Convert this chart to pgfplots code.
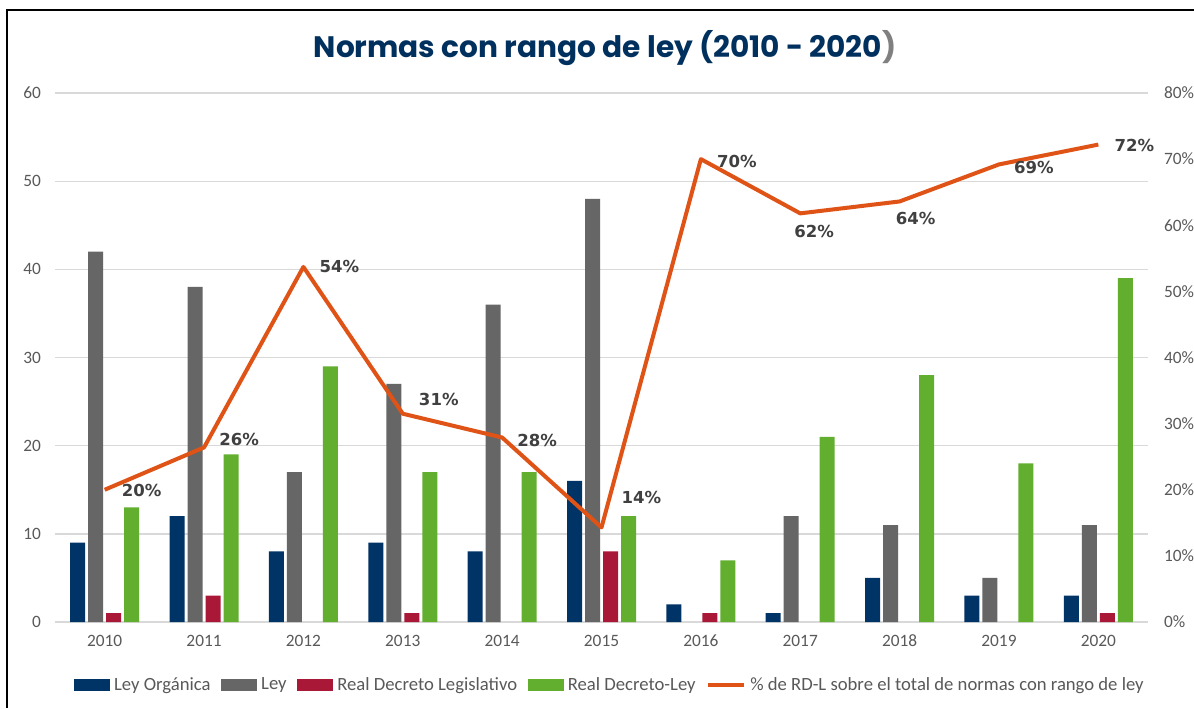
\documentclass[border=0pt]{standalone}
\usepackage{pgfplots}
\pgfplotsset{compat=1.18}
\usepackage{pgfplotstable}
\usepackage{fontspec}
\setmainfont{Carlito}
\newfontfamily\titlefont{Poppins}
\newfontfamily\labelfont{DejaVu Sans}

\definecolor{cNavy}{HTML}{003366}
\definecolor{cGray}{HTML}{666666}
\definecolor{cRed}{HTML}{AA1838}
\definecolor{cGreen}{HTML}{62AE2F}
\definecolor{cOrange}{HTML}{E05316}
\definecolor{cGrid}{HTML}{D9D9D9}
\definecolor{cTick}{HTML}{595959}
\definecolor{cLabel}{HTML}{404040}
\definecolor{cTitle}{HTML}{00305E}

% counts per year
\pgfplotstableread{
x lo ley rdleg rdl
0  9 42 1 13
1 12 38 3 19
2  8 17 0 29
3  9 27 1 17
4  8 36 0 17
5 16 48 8 12
6  2  0 1  7
7  1 12 0 21
8  5 11 0 28
9  3  5 0 18
10 3 11 1 39
}\normas

% share of RD-L, label text and label offsets (pt)
\pgfplotstableread{
x pct lab dx dy
0  20.0 20 27.75 -0.75
1  26.4 26 26.25 6
2  53.7 54 27 0
3  31.5 31 27 10.5
4  27.9 28 26.25 -2.25
5  14.3 14 30 22.5
6  70.0 70 27 -1.5
7  61.8 62 10.5 -13.5
8  63.6 64 12 -12.75
9  69.2 69 26.25 -2.25
10 72.2 72 27 -0.75
}\rdl

\pgfplotsset{
  base/.style={
    width=819.75pt, height=396.75pt, scale only axis,
    at={(0,0)}, anchor=south west,
    xmin=-0.5, xmax=10.5,
    major tick length=0pt,
    tick label style={font=\fontsize{13}{15}\selectfont, text=cTick},
    /pgf/number format/assume math mode=true,
  },
  barleg/.style={legend image code/.code={\fill[##1] (0pt,-4.5pt) rectangle (27pt,4.5pt);}},
  lineleg/.style={legend image code/.code={\draw[##1] (0pt,0pt) -- (27pt,0pt);}},
  nozero/.style={y filter/.expression={y==0 ? nan : y}, unbounded coords=discard},
}

\begin{document}
\begin{tikzpicture}
\useasboundingbox (-41.25pt,-64.5pt) rectangle (854.25pt,466.5pt);
\fill[white] (-41.25pt,-64.5pt) rectangle (854.25pt,466.5pt);
\draw[line width=1.1pt] (-36pt,-64.5pt) -- (-36pt,459pt) -- (854.25pt,459pt);

\begin{axis}[
    base,
    ymin=0, ymax=60,
    ytick={0,10,...,60},
    xtick={0,...,10},
    xticklabels={2010,2011,2012,2013,2014,2015,2016,2017,2018,2019,2020},
    ybar=2.25pt, bar width=11.25pt,
    ymajorgrids, grid style={cGrid, line width=1pt},
    axis x line*=bottom, axis y line*=left,
    x axis line style={cGrid, line width=1.3pt, -},
    y axis line style={draw=none},
    xticklabel style={yshift=-6pt, text height=9pt, text depth=0pt},
    yticklabel style={xshift=-7pt},
    legend columns=-1,
    legend cell align=left,
    legend style={at={(0.508,-0.119)}, anchor=center, draw=none, fill=none,
      font=\fontsize{14}{16}\selectfont, text=cTick,
      /tikz/every odd column/.style={column sep=1pt},
      /tikz/every even column/.style={column sep=6pt}},
]
\addplot[fill=cNavy, draw=none, barleg] table[x=x, y=lo] {\normas};
\addlegendentry{Ley Orgánica}
\addplot[fill=cGray, draw=none, barleg, nozero] table[x=x, y=ley] {\normas};
\addlegendentry{Ley}
\addplot[fill=cRed, draw=none, barleg, nozero] table[x=x, y=rdleg] {\normas};
\addlegendentry{Real Decreto Legislativo}
\addplot[fill=cGreen, draw=none, barleg] table[x=x, y=rdl] {\normas};
\addlegendentry{Real Decreto-Ley}
\addlegendimage{cOrange, line width=3pt, lineleg}
\addlegendentry{\% de RD-L sobre el total de normas con rango de ley}
\end{axis}

\begin{axis}[
    base,
    ymin=0, ymax=80,
    ytick={0,10,...,80},
    yticklabel={\pgfmathprintnumber{\tick}\%},
    axis x line=none, axis y line*=right,
    y axis line style={draw=none},
    yticklabel style={xshift=8.5pt},
]
\addplot[cOrange, line width=3pt, line join=round, mark=none,
    point meta=explicit symbolic,
    visualization depends on={\thisrow{dx}\as\dx},
    visualization depends on={\thisrow{dy}\as\dy},
    nodes near coords={\pgfplotspointmeta\%},
    every node near coord/.append style={anchor=center, xshift=\dx pt, yshift=\dy pt,
      font=\labelfont\bfseries\fontsize{12.4}{14}\selectfont, text=cLabel}]
  table[x=x, y=pct, meta=lab] {\rdl};
\end{axis}

\node[font=\titlefont\bfseries\fontsize{22.2}{26}\selectfont, text=cTitle] at (412.5pt,430.5pt)
  {Normas con rango de ley (2010 - 2020{\color{gray})}};
\end{tikzpicture}
\end{document}
